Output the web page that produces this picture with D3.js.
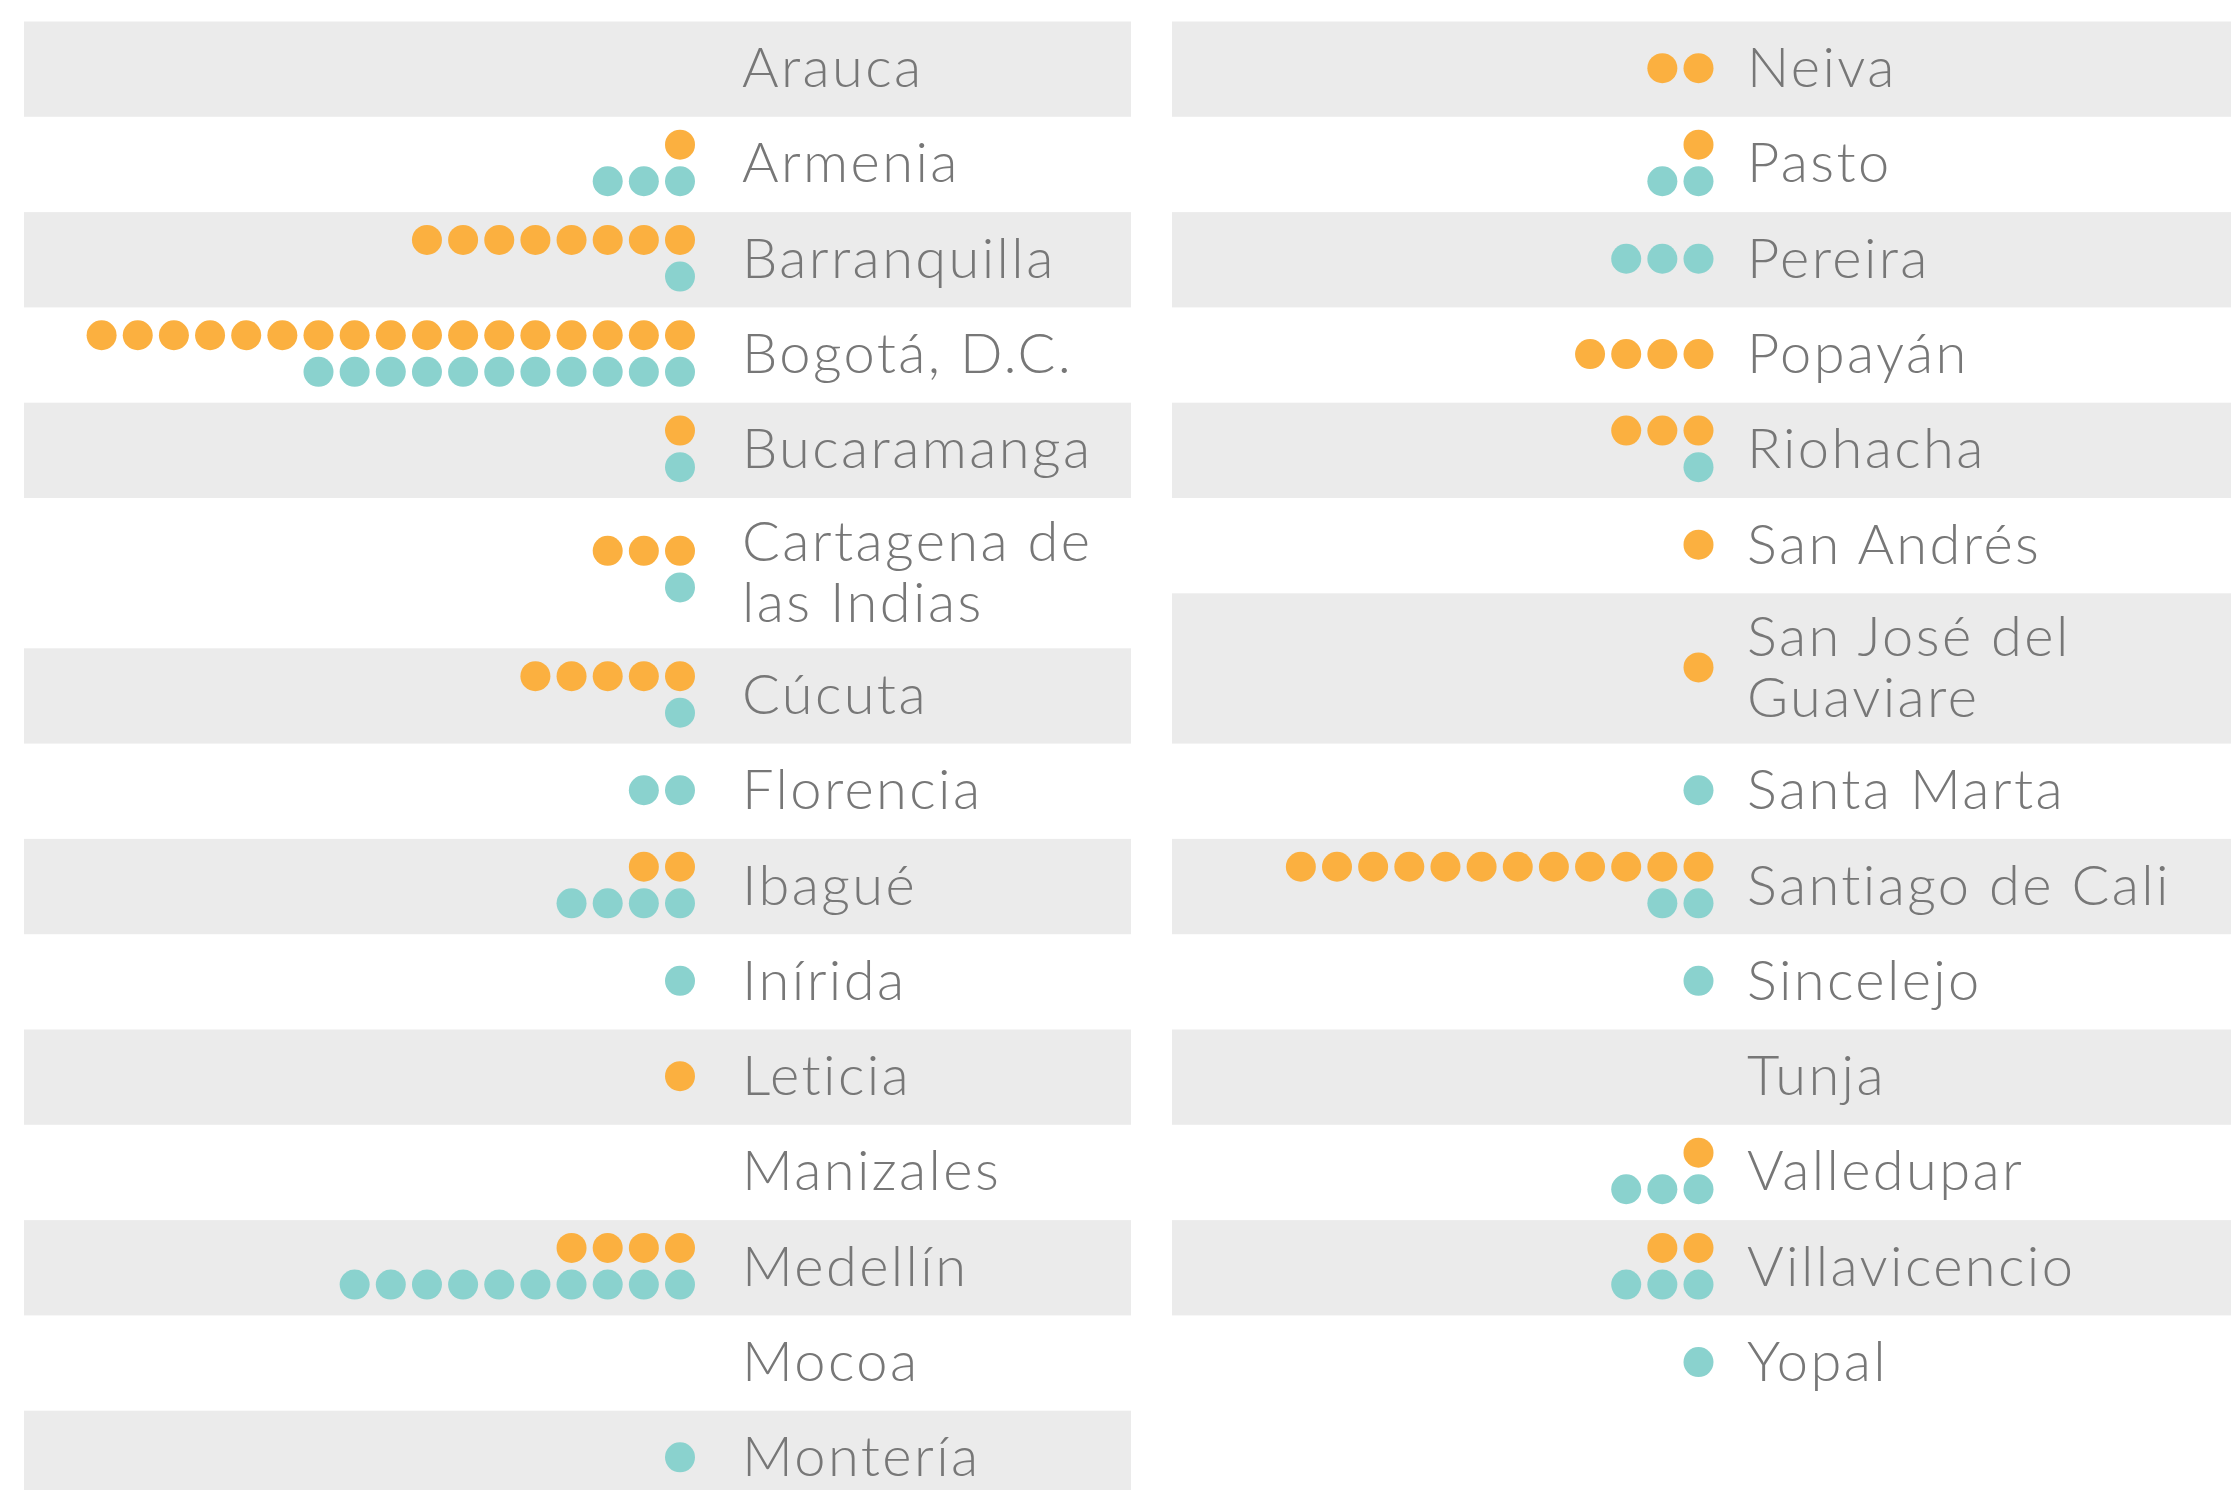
<!DOCTYPE html>
<html>
<head>
<meta charset="utf-8">
<script src="https://cdn.jsdelivr.net/npm/d3@7"></script>
<style>
  html, body { margin: 0; padding: 0; background: #ffffff; }
  svg { display: block; }
</style>
</head>
<body>
<svg id="chart" width="2231" height="1490"></svg>
<script>
// ---------- DATA ----------
const citiesLeft = ["Arauca", "Armenia", "Barranquilla", "Bogotá, D.C.", "Bucaramanga",
  "Cartagena de las Indias", "Cúcuta", "Florencia", "Ibagué", "Inírida", "Leticia",
  "Manizales", "Medellín", "Mocoa", "Montería"];
const orangeLeft = [0, 1, 8, 17, 1, 3, 5, 0, 2, 0, 1, 0, 4, 0, 0];
const tealLeft   = [0, 3, 1, 11, 1, 1, 1, 2, 4, 1, 0, 0, 10, 0, 1];

const citiesRight = ["Neiva", "Pasto", "Pereira", "Popayán", "Riohacha", "San Andrés",
  "San José del Guaviare", "Santa Marta", "Santiago de Cali", "Sincelejo", "Tunja",
  "Valledupar", "Villavicencio", "Yopal"];
const orangeRight = [2, 1, 0, 4, 3, 1, 1, 0, 12, 0, 0, 1, 2, 0];
const tealRight   = [0, 2, 3, 0, 1, 0, 0, 1, 2, 1, 0, 3, 3, 1];

const seriesNames = ["orange", "teal"];

// ---------- STYLE / LAYOUT ----------
const W = 2231, H = 1490;
const colors = { orange: "#fbb040", teal: "#8ad2ce" };
const bandColor = "#ebebeb";
const textColor = "#777777";
const fontFamily = "Lato, 'Open Sans', sans-serif";
const fontSize = 56;
const letterSpacing = 2.4;
const top0 = 21.5, rowH = 95.3, rowExtra = 55, lineH = 61;
const dotR = 15, pitchX = 36.15, pitchY = 36.6;

const columns = [
  { cities: citiesLeft, orange: orangeLeft, teal: tealLeft,
    bandX0: 24, bandX1: 1131, dotRight: 680, textX: 742, wrapW: 385 },
  { cities: citiesRight, orange: orangeRight, teal: tealRight,
    bandX0: 1172, bandX1: W, dotRight: 1698.5, textX: 1747, wrapW: 470 }
];

const svg = d3.select("#chart");

// text measuring helper
const measure = svg.append("text")
  .attr("font-family", fontFamily).attr("font-size", fontSize).attr("font-weight", 300)
  .attr("letter-spacing", letterSpacing)
  .attr("visibility", "hidden");
function textWidth(s) { measure.text(s); return measure.node().getComputedTextLength(); }
function wrap(label, maxW) {
  const words = label.split(" ");
  const lines = [];
  let cur = "";
  words.forEach(w => {
    const t = cur ? cur + " " + w : w;
    if (cur && textWidth(t) > maxW) { lines.push(cur); cur = w; }
    else cur = t;
  });
  if (cur) lines.push(cur);
  return lines;
}

columns.forEach(col => {
  // build rows
  let y = top0;
  const rows = col.cities.map((c, i) => {
    const lines = wrap(c, col.wrapW);
    const h = rowH + (lines.length - 1) * rowExtra;
    const r = { city: c, lines, y0: y, h, cy: y + h / 2, i,
      counts: { orange: col.orange[i], teal: col.teal[i] } };
    y += h;
    return r;
  });

  const g = svg.append("g");

  // bands
  g.selectAll("rect.band").data(rows.filter(r => r.i % 2 === 0)).join("rect")
    .attr("class", "band")
    .attr("x", col.bandX0).attr("width", col.bandX1 - col.bandX0)
    .attr("y", r => r.y0).attr("height", r => r.h)
    .attr("fill", bandColor);

  // dot index scale (0 = rightmost)
  const xDot = d3.scaleLinear().domain([0, 1]).range([col.dotRight, col.dotRight - pitchX]);

  rows.forEach(r => {
    const present = seriesNames.filter(s => r.counts[s] > 0);
    const off = r.lines.length > 1 ? -4 : -1.5;
    const yLine = d3.scaleLinear()
      .domain([0, 1])
      .range(present.length > 1
        ? [r.cy + off - pitchY / 2, r.cy + off + pitchY / 2]
        : [r.cy - 1, r.cy - 1]);
    present.forEach((s, li) => {
      g.selectAll(null).data(d3.range(r.counts[s])).join("circle")
        .attr("cx", k => xDot(k))
        .attr("cy", yLine(li))
        .attr("r", dotR)
        .attr("fill", colors[s]);
    });

    const base0 = r.cy + 18 - (r.lines.length - 1) * lineH / 2;
    const t = g.append("text")
      .attr("x", col.textX)
      .attr("font-family", fontFamily)
      .attr("font-size", fontSize)
      .attr("font-weight", 300)
      .attr("letter-spacing", letterSpacing)
      .attr("fill", textColor);
    r.lines.forEach((ln, k) => {
      t.append("tspan").attr("x", col.textX).attr("y", base0 + k * lineH).text(ln);
    });
  });
});

measure.remove();
</script>
</body>
</html>
